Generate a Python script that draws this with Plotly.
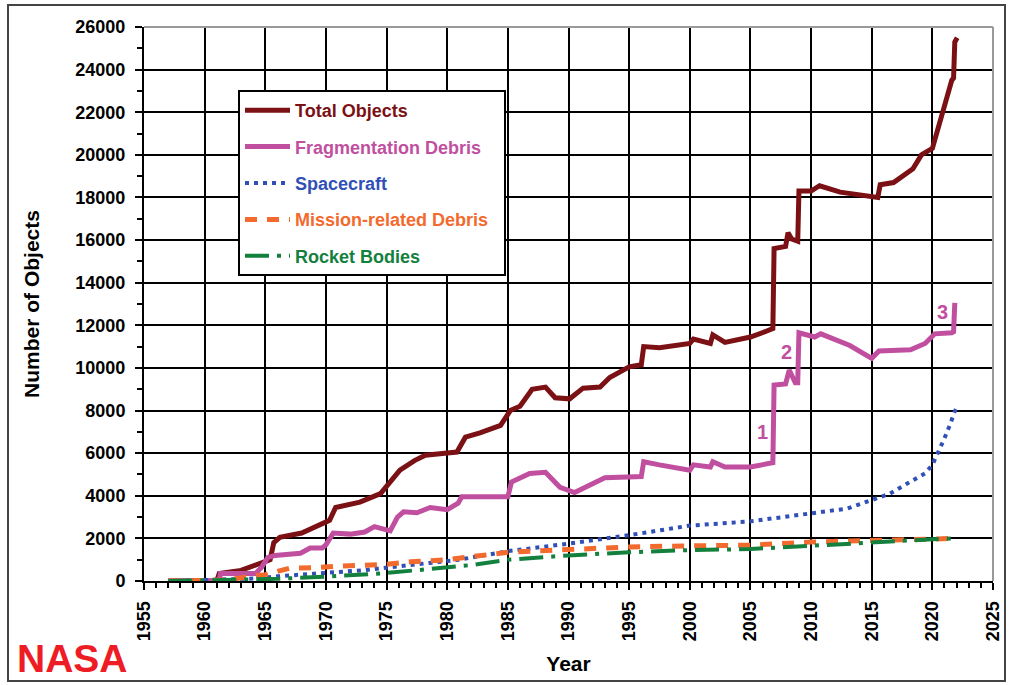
import plotly.graph_objects as go

# ---- Data: catalogued objects in Earth orbit by type (end of each step) ----
total_years = [1957.0, 1961.0, 1961.2, 1963.0, 1964.7, 1965.4, 1965.7, 1966.2, 1968.0, 1969.1,
               1970.3, 1970.8, 1972.8, 1974.5, 1975.3, 1976.1, 1977.3, 1978.2, 1979.8, 1980.8,
               1981.5, 1982.7, 1984.4, 1985.2, 1986.0, 1987.0, 1988.1, 1988.9, 1990.1, 1991.2,
               1992.6, 1993.4, 1995.0, 1996.0, 1996.2, 1997.5, 2000.0, 2000.3, 2001.7, 2001.9,
               2002.9, 2005.0, 2006.2, 2006.85, 2006.95, 2007.9, 2008.1, 2008.4, 2008.9, 2009.0,
               2010.0, 2010.7, 2012.4, 2014.0, 2015.5, 2015.7, 2016.8, 2018.4, 2019.1, 2020.0,
               2020.6, 2021.2, 2021.6, 2021.75, 2021.85, 2022.05]
total_values = [0, 0, 350, 500, 850, 1000, 1800, 2050, 2250, 2550,
                2850, 3450, 3700, 4100, 4650, 5200, 5650, 5900, 6000, 6050,
                6750, 6950, 7300, 8000, 8200, 9000, 9100, 8600, 8550, 9050,
                9100, 9550, 10050, 10150, 11000, 10950, 11150, 11350, 11150, 11550,
                11200, 11450, 11700, 11850, 15600, 15700, 16350, 16050, 15950, 18300,
                18300, 18550, 18250, 18150, 18000, 18600, 18700, 19350, 20000, 20300,
                21600, 22700, 23500, 23600, 25300, 25500]

frag_years = [1957.0, 1961.2, 1961.3, 1964.2, 1964.7, 1965.2, 1965.8, 1967.9, 1968.7, 1969.7,
              1970.0, 1970.6, 1972.0, 1973.2, 1974.0, 1975.3, 1975.9, 1976.4, 1977.5, 1978.6,
              1980.0, 1980.9, 1981.2, 1985.0, 1985.3, 1986.8, 1988.1, 1989.3, 1990.5, 1991.8,
              1993.0, 1996.0, 1996.2, 1997.5, 2000.0, 2000.3, 2001.7, 2001.9, 2002.9, 2005.0,
              2006.6, 2006.85, 2006.95, 2007.9, 2008.2, 2008.7, 2008.9, 2009.0, 2010.3, 2010.8,
              2013.2, 2015.0, 2015.6, 2018.2, 2019.4, 2020.2, 2021.6, 2021.75, 2021.85]
frag_values = [0, 0, 350, 350, 650, 1100, 1200, 1300, 1550, 1550,
               1700, 2250, 2200, 2300, 2550, 2350, 3000, 3250, 3200, 3450,
               3350, 3650, 3950, 3950, 4650, 5050, 5100, 4400, 4150, 4500,
               4850, 4900, 5600, 5450, 5200, 5450, 5350, 5600, 5350, 5350,
               5550, 5550, 9200, 9250, 9900, 9300, 9300, 11650, 11450, 11600,
               11050, 10450, 10800, 10850, 11150, 11600, 11650, 11700, 13050]

sc_years = [1957, 1962, 1964.5, 1966, 1968, 1970, 1973, 1976, 1979, 1981, 1985, 1990, 1995,
            2000, 2005, 2010, 2013, 2015, 2016.5, 2018, 2019.4, 2020, 2020.6, 2021, 2021.5,
            2021.8, 2022.1]
sc_values = [0, 50, 120, 220, 320, 380, 500, 680, 900, 1000, 1400, 1750, 2150,
             2600, 2800, 3180, 3400, 3800, 4100, 4600, 5050, 5450, 6150, 6700, 7400,
             7900, 8250]

mrd_years = [1957, 1962, 1963.5, 1965, 1967, 1969, 1971, 1975, 1977, 1980, 1985, 1990, 1995,
             2000, 2005, 2010, 2015, 2020, 2022]
mrd_values = [0, 50, 200, 300, 600, 620, 700, 780, 900, 1000, 1350, 1500, 1600,
              1650, 1680, 1830, 1880, 1960, 2000]

rb_years = [1957, 1962, 1966, 1969.8, 1972, 1974.5, 1978.3, 1982, 1985, 1990, 1995, 2000,
            2005, 2008, 2012.4, 2015, 2020, 2022]
rb_values = [0, 50, 100, 200, 250, 350, 550, 750, 1000, 1200, 1350, 1450,
             1500, 1600, 1700, 1830, 1960, 2000]

# Numbered event labels on the fragmentation-debris curve
event_labels = ["1", "2", "3"]
event_x = [2006.0, 2008.0, 2020.8]
event_y = [6990, 10750, 12620]

FONT = "Liberation Sans, Arial, sans-serif"

series = [
    ("Total Objects", total_years, total_values, "#7B1114", 5, "solid"),
    ("Fragmentation Debris", frag_years, frag_values, "#C0509F", 5, "solid"),
    ("Spacecraft", sc_years, sc_values, "#3050B8", 4, "4px,5px"),
    ("Mission-related Debris", mrd_years, mrd_values, "#F26A2E", 5, "12px,10px"),
    ("Rocket Bodies", rb_years, rb_values, "#14803E", 4, "24px,8px,4px,8px"),
]

fig = go.Figure()
for i, (name, xs, ys, color, width, dash) in enumerate(series):
    label = f"<span style='color:{color}'>{name}</span>"
    if i == 3:
        label += "&nbsp;&nbsp;"
    fig.add_trace(go.Scatter(
        x=xs, y=ys, mode="lines",
        name=label,
        legendgroup=f"g{i}",
        line=dict(color=color, width=width, dash=dash),
        hoverinfo="skip",
    ))

for lbl, ex, ey in zip(event_labels, event_x, event_y):
    fig.add_annotation(x=ex, y=ey, text=lbl, showarrow=False,
                       font=dict(family=FONT, size=20, color="#C0509F", weight="bold"))

tickfont = dict(family=FONT, size=18, color="black", weight="bold")

# NASA mark
fig.add_annotation(xref="paper", yref="paper", x=(15 - 144) / 849, y=(581 - 658) / 554,
                   xanchor="left", yanchor="middle", text="NASA", showarrow=False,
                   font=dict(family=FONT, size=39, color="#EE1C25", weight="bold"))

# Outer frame around the whole figure
fig.add_shape(type="rect", xref="paper", yref="paper",
              x0=(8 - 144) / 849, x1=(1005 - 144) / 849,
              y0=(581 - 681) / 554, y1=(581 - 5) / 554,
              line=dict(color="#444444", width=2), layer="below")
# Light top/right edges of the plot area
fig.add_shape(type="line", xref="paper", yref="paper", x0=0, x1=1, y0=1, y1=1,
              line=dict(color="#999999", width=2))
fig.add_shape(type="line", xref="paper", yref="paper", x0=1, x1=1, y0=0, y1=1,
              line=dict(color="#999999", width=2))

fig.update_xaxes(
    range=[1955, 2025], tickmode="linear", tick0=1955, dtick=5, tickangle=-90,
    showgrid=True, gridcolor="black", gridwidth=1.5,
    showline=True, linecolor="black", linewidth=2,
    ticks="outside", ticklen=7, tickwidth=1.5, tickcolor="black",
    ticklabelstandoff=4,
    minor=dict(dtick=1, tick0=1955, ticks="outside", ticklen=5, tickwidth=1.5,
               tickcolor="black", showgrid=False),
    tickfont=tickfont, zeroline=False,
    title=dict(text="Year", standoff=16,
               font=dict(family=FONT, size=21, color="black", weight="bold")),
)
fig.update_yaxes(
    range=[0, 26000], tickmode="linear", tick0=0, dtick=2000, tickformat="d",
    showgrid=True, gridcolor="black", gridwidth=1.5,
    showline=True, linecolor="black", linewidth=2,
    ticks="outside", ticklen=7, tickwidth=1.5, tickcolor="black",
    ticklabelstandoff=6,
    minor=dict(dtick=1000, tick0=0, ticks="outside", ticklen=5, tickwidth=1.5,
               tickcolor="black", showgrid=False),
    tickfont=tickfont, zeroline=False,
    title=dict(text="Number of Objects", standoff=30,
               font=dict(family=FONT, size=21, color="black", weight="bold")),
)

fig.update_layout(
    width=1012, height=685,
    margin=dict(l=144, r=19, t=27, b=104, autoexpand=False),
    paper_bgcolor="white", plot_bgcolor="white",
    showlegend=True,
    legend=dict(
        x=(238 - 144) / 849, y=(581 - 90) / 554, xanchor="left", yanchor="top",
        bgcolor="white", bordercolor="black", borderwidth=2,
        font=dict(family=FONT, size=18, weight="bold"),
        traceorder="grouped", tracegroupgap=10, itemwidth=45,
    ),
)

fig.write_html("out.html")
